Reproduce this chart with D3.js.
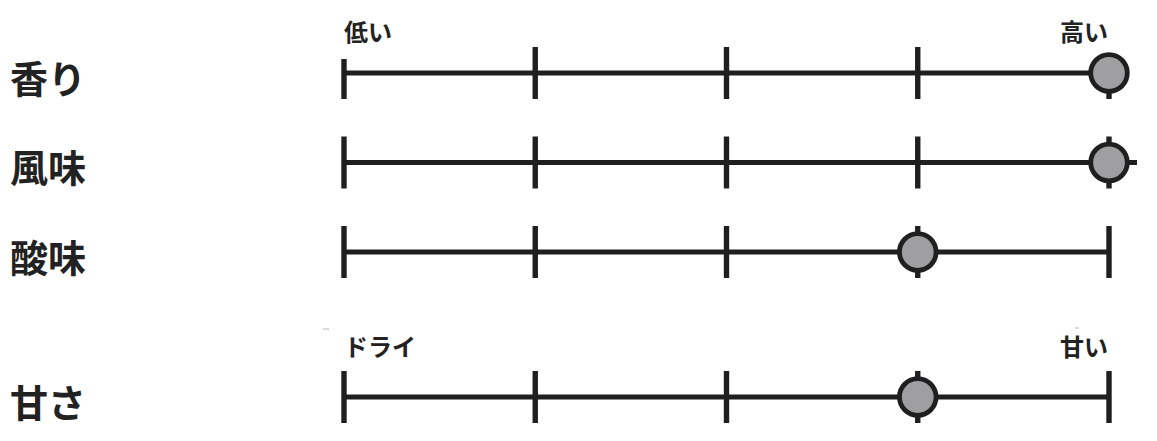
<!DOCTYPE html>
<html>
<head>
<meta charset="utf-8">
<script src="https://cdn.jsdelivr.net/npm/d3@7"></script>
<style>
  html, body { margin: 0; padding: 0; background: #fff; }
  svg { display: block; }
  text { font-family: "Noto Sans CJK JP", "Noto Sans", sans-serif; font-weight: 700; fill: #222; }
</style>
</head>
<body>
<svg id="chart" width="1157" height="441"></svg>
<script>
// ---- data ----
const categories = ["香り", "風味", "酸味", "甘さ"];
const values = [5, 5, 4, 4];            // position on 1–5 scale
const groupOf = [0, 0, 0, 1];           // which scale group each row belongs to
const groupLowLabels = ["低い", "ドライ"];
const groupHighLabels = ["高い", "甘い"];
const tickValues = [1, 2, 3, 4, 5];

// ---- layout ----
const svg = d3.select("#chart");
const ink = "#1f1f1f";
const x = d3.scaleLinear().domain([1, 5]).range([344, 1109]);
const groupTop = [73, 397];
const rowGap = 89.5;
const rowIndexInGroup = categories.map((c, i) => groupOf.slice(0, i).filter(g => g === groupOf[i]).length);
const y = i => groupTop[groupOf[i]] + rowIndexInGroup[i] * rowGap;
const tickHalf = 26;

categories.forEach((cat, i) => {
  const yy = y(i);
  const g = svg.append("g");
  const lineEnd = (i === 1) ? x(5) + 28 : x(5);
  g.append("line")
    .attr("x1", x(1)).attr("x2", lineEnd)
    .attr("y1", yy).attr("y2", yy)
    .attr("stroke", ink).attr("stroke-width", 4.8);
  g.selectAll("line.tick").data(tickValues).join("line")
    .attr("class", "tick")
    .attr("x1", d => x(d)).attr("x2", d => x(d))
    .attr("y1", d => (i === 0 && (d === 1 || d === 5)) ? yy - 14 : yy - tickHalf)
    .attr("y2", yy + tickHalf)
    .attr("stroke", ink).attr("stroke-width", 5.4);
  g.append("circle")
    .attr("cx", x(values[i])).attr("cy", yy).attr("r", 18.3)
    .attr("fill", "#9f9fa1").attr("stroke", ink).attr("stroke-width", 4.8);
  svg.append("text")
    .attr("x", 10).attr("y", yy + 3)
    .attr("dominant-baseline", "central")
    .style("font-size", "38px")
    .text(cat);
});

const labelOffset = [-43, -52];
[0, 1].forEach(gi => {
  const ly = groupTop[gi] + labelOffset[gi];
  svg.append("text")
    .attr("x", x(1)).attr("y", ly)
    .attr("dominant-baseline", "central")
    .style("font-size", "24px")
    .text(groupLowLabels[gi]);
  svg.append("text")
    .attr("x", x(5) - 1).attr("y", ly)
    .attr("text-anchor", "end")
    .attr("dominant-baseline", "central")
    .style("font-size", "24px")
    .text(groupHighLabels[gi]);
});

svg.append("line").attr("x1", 323).attr("x2", 329).attr("y1", 329).attr("y2", 329)
  .attr("stroke", "#bbb").attr("stroke-width", 1);
svg.append("line").attr("x1", 1075).attr("x2", 1079).attr("y1", 328).attr("y2", 328)
  .attr("stroke", "#bbb").attr("stroke-width", 1);
</script>
</body>
</html>
